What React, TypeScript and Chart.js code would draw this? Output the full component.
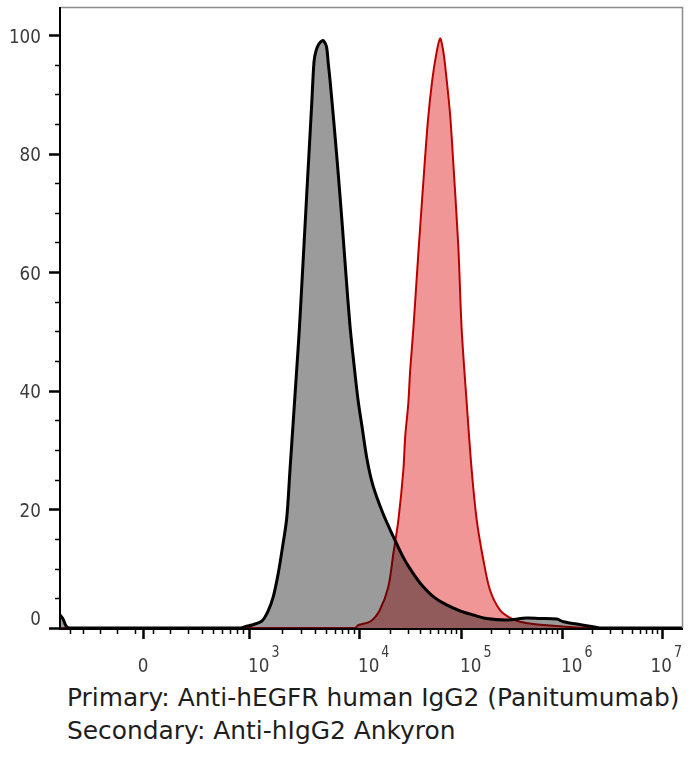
import React, { useEffect, useRef } from "react";
import { Chart, registerables } from "chart.js";

Chart.register(...registerables);

// x values are display channels (0–1000) of the biexponential axis, y values are % of max
const GRAY_X = [0, 5, 10, 16, 290, 300.2, 308.7, 324.8, 334.3, 342.9, 350.5, 356.8, 364.5, 369.7, 375.1, 380.5, 384.7, 389.1, 392.8, 396.6, 400.3, 404.7, 408.4, 411.6, 416.4, 421.2, 424.4, 428.5, 431.3, 434.1, 440.5, 447, 453.4, 459.8, 466.2, 472.6, 479.1, 485.5, 493.5, 503.2, 519.3, 535.9, 551.9, 562.7, 578.8, 600.2, 621.7, 643.1, 664.5, 686, 718.2, 750.3, 771.7, 798.6, 809.2, 830.7, 857.4, 868.2, 1000];
const GRAY_Y = [2.2, 1.5, 0.3, 0, 0, 0.3, 0.5, 1.2, 2.8, 5.3, 9, 13, 18.5, 26.6, 35, 43.5, 50.2, 58.5, 65.6, 73, 80, 88.4, 95.5, 97.3, 98.5, 99, 98.9, 98, 95.2, 92.4, 85, 77, 68.5, 59.5, 51, 44.5, 38.5, 34, 28.5, 24, 19.3, 15.4, 11.9, 10, 7.6, 5.3, 3.9, 2.9, 2.2, 1.6, 1.35, 1.7, 1.6, 1.5, 1.06, 0.67, 0.2, 0, 0];

const RED_X = [0, 474, 480, 499, 514, 528, 536, 544, 552, 555, 560, 563, 568, 576, 584, 591.5, 598, 604.5, 611, 615.8, 619, 627, 632.3, 640.4, 645.8, 653.9, 661.9, 670, 680.6, 691.3, 707.4, 723.5, 739.6, 761, 804, 852, 1000];
const RED_Y = [0, 0, 0.5, 1.1, 3, 7, 12.6, 18.2, 26.6, 32.3, 37.9, 43.5, 50.3, 63, 75, 85.5, 92, 96.5, 99.4, 97.5, 95, 86.8, 78.4, 64.3, 50.3, 37.9, 26.6, 18.2, 11.5, 6.4, 3, 1.7, 1.06, 0.67, 0.3, 0, 0];

const Y_TICK_VALUES = [0, 20, 40, 60, 80, 100];
const Y_TICK_LABELS = ["0", "20", "40", "60", "80", "100"];

const X_ZERO_CH = 133.4;
const X_ZERO_LABEL = "0";
const X_DECADE_EXP = ["3", "4", "5", "6", "7"];
const X_DECADE_CH = [303.9, 480.7, 644.7, 807.1, 967.8];
const X_LOW_MINOR_CH = [16.1, 37, 64.3, 91.6, 120.6, 149.5, 176.8, 205.8, 228.3, 246, 260.5, 273.3, 284.6, 294.2];

const CAPTION = ["Primary: Anti-hEGFR human IgG2 (Panitumumab)", "Secondary: Anti-hIgG2 Ankyron"];

const FONT = "'DejaVu Sans', Verdana, sans-serif";
const SQUEEZE = 0.84;

function squeezedText(ctx: any, text: string, x: number, y: number, size: number, align: string) {
  ctx.save();
  ctx.font = `${size}px ${FONT}`;
  ctx.textAlign = align;
  ctx.translate(x, y);
  ctx.scale(SQUEEZE, 1);
  ctx.fillText(text, 0, 0);
  ctx.restore();
}

function squeezedWidth(ctx: any, text: string, size: number) {
  ctx.save();
  ctx.font = `${size}px ${FONT}`;
  const w = ctx.measureText(text).width * SQUEEZE;
  ctx.restore();
  return w;
}

const axesPlugin = {
  id: "flowAxes",
  beforeDraw(chart: any) {
    const ctx = chart.ctx;
    ctx.save();
    ctx.fillStyle = "#ffffff";
    ctx.fillRect(0, 0, chart.width, chart.height);
    ctx.restore();
  },
  beforeDatasetsDraw(chart: any) {
    chart.ctx.save();
    chart.ctx.globalCompositeOperation = "multiply";
  },
  afterDatasetsDraw(chart: any) {
    chart.ctx.restore();
  },
  afterDraw(chart: any) {
    const ctx = chart.ctx;
    const { left, right, top, bottom } = chart.chartArea;
    const xs = chart.scales.x;
    const ys = chart.scales.y;
    ctx.save();
    // frame (top, right) gray
    ctx.strokeStyle = "#8c8c8c";
    ctx.lineWidth = 1.5;
    ctx.beginPath();
    ctx.moveTo(left, top + 0.5);
    ctx.lineTo(right + 0.5, top + 0.5);
    ctx.lineTo(right + 0.5, bottom);
    ctx.stroke();
    // axes black
    ctx.strokeStyle = "#000";
    ctx.lineWidth = 2;
    ctx.beginPath();
    ctx.moveTo(left, top);
    ctx.lineTo(left, bottom + 1);
    ctx.lineTo(right + 1, bottom + 1);
    ctx.stroke();

    // y ticks
    for (let v = 0; v <= 100; v += 5) {
      const py = Math.round(ys.getPixelForValue(v)) + 0.5;
      const major = v % 20 === 0;
      ctx.lineWidth = major ? 2.5 : 1.5;
      ctx.beginPath();
      ctx.moveTo(left - (major ? 11 : 5), py);
      ctx.lineTo(left, py);
      ctx.stroke();
    }
    // y labels
    ctx.fillStyle = "#3c3c3c";
    ctx.textBaseline = "middle";
    Y_TICK_VALUES.forEach((v, i) => {
      let py = ys.getPixelForValue(v) + 2.5;
      if (py > bottom - 8) py = bottom - 8;
      squeezedText(ctx, Y_TICK_LABELS[i], left - 19, py, 20, "right");
    });

    // x ticks
    const xTick = (ch: number, major: boolean) => {
      const px = Math.round(xs.getPixelForValue(ch)) + 0.5;
      if (px > right + 1) return;
      ctx.lineWidth = major ? 2.5 : 1.5;
      ctx.beginPath();
      ctx.moveTo(px, bottom + 1);
      ctx.lineTo(px, bottom + (major ? 11 : 6));
      ctx.stroke();
    };
    X_LOW_MINOR_CH.forEach((c) => xTick(c, false));
    xTick(X_ZERO_CH, true);
    X_DECADE_CH.forEach((c, k) => {
      xTick(c, true);
      const next = X_DECADE_CH[k + 1];
      if (next !== undefined) {
        for (let m = 2; m <= 9; m++) xTick(c + Math.log10(m) * (next - c), false);
      }
    });

    // x labels
    ctx.textBaseline = "alphabetic";
    squeezedText(ctx, X_ZERO_LABEL, xs.getPixelForValue(X_ZERO_CH), bottom + 44, 20, "center");
    X_DECADE_CH.forEach((c, k) => {
      const wBase = squeezedWidth(ctx, "10", 20);
      const wExp = squeezedWidth(ctx, X_DECADE_EXP[k], 15);
      let x0 = xs.getPixelForValue(c) - 1;
      const total = wBase + 2 + wExp;
      if (x0 + total > right) x0 = right - total;
      squeezedText(ctx, "10", x0, bottom + 44, 20, "left");
      squeezedText(ctx, X_DECADE_EXP[k], x0 + wBase + 2, bottom + 29, 15, "left");
    });
    ctx.restore();
  },
};

export default function App() {
  const ref = useRef<HTMLCanvasElement | null>(null);

  useEffect(() => {
    if (!ref.current) return;
    const gray = GRAY_X.map((x, i) => ({ x, y: GRAY_Y[i] }));
    const red = RED_X.map((x, i) => ({ x, y: RED_Y[i] }));
    const chart = new Chart(ref.current, {
      type: "line",
      data: {
        datasets: [
          {
            label: "Isotype",
            data: gray,
            borderColor: "#000000",
            borderWidth: 3,
            backgroundColor: "rgb(155,155,155)",
            fill: "origin",
            pointRadius: 0,
            tension: 0.3,
            clip: 3,
          },
          {
            label: "Panitumumab",
            data: red,
            borderColor: "#c00000",
            borderWidth: 2,
            backgroundColor: "rgb(241,150,150)",
            fill: "origin",
            pointRadius: 0,
            tension: 0.3,
            clip: 3,
          },
        ],
      },
      options: {
        responsive: false,
        animation: false,
        events: [],
        layout: { padding: { top: 7, right: 16, left: 0, bottom: 0 } },
        plugins: { legend: { display: false }, tooltip: { enabled: false } },
        scales: {
          x: {
            type: "linear",
            min: 0,
            max: 1000,
            grid: { display: false },
            border: { display: false },
            ticks: { display: false },
            afterFit: (s: any) => {
              s.height = 52;
            },
          },
          y: {
            type: "linear",
            min: 0,
            max: 104.7,
            grid: { display: false },
            border: { display: false },
            ticks: { display: false },
            afterFit: (s: any) => {
              s.width = 60;
            },
          },
        },
      },
      plugins: [axesPlugin],
    } as any);
    return () => chart.destroy();
  }, []);

  return (
    <div style={{ position: "fixed", left: 0, top: 0, width: 698, height: 768, background: "#fff" }}>
      <canvas ref={ref} width={698} height={680} style={{ position: "absolute", left: 0, top: 0, width: 698, height: 680 }} />
      <div
        style={{
          position: "absolute",
          left: 67,
          top: 680.5,
          fontFamily: FONT,
          fontSize: 24.9,
          lineHeight: "33px",
          color: "#1e1e1e",
          whiteSpace: "pre",
        }}
      >
        {CAPTION.map((l, i) => (
          <div key={i}>{l}</div>
        ))}
      </div>
    </div>
  );
}
